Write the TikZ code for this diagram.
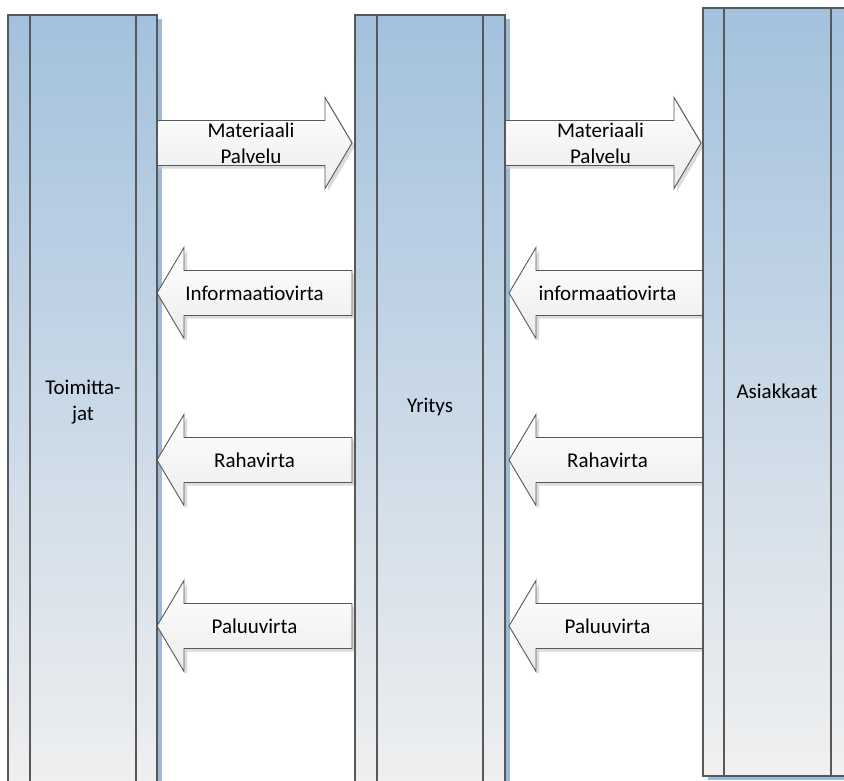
\documentclass[tikz,border=0pt]{standalone}
\usepackage{fontspec}
\setmainfont{Carlito}

\definecolor{coltop}{RGB}{163,193,221}
\definecolor{colbot}{RGB}{240,240,240}
\definecolor{colshadow}{RGB}{155,186,216}
\definecolor{edgegray}{RGB}{88,88,88}
\definecolor{flowbot}{RGB}{236,236,236}
\definecolor{flowshadow}{RGB}{205,205,205}

\tikzset{
  colbody/.style={top color=coltop, bottom color=colbot},
  coledge/.style={draw=edgegray, line width=1.4pt},
  colshade/.style={fill=colshadow},
  flowbody/.style={top color=white, bottom color=flowbot, draw=edgegray,
                   line width=0.9pt, line join=miter},
  flowshade/.style={fill=flowshadow, opacity=0.7},
  lbl/.style={font=\fontsize{21}{26}\selectfont, align=center,
              text=black, inner sep=0pt},
}

% block arrow pointing right: name, start x, tip x, centre y, text
\newcommand\flowright[5]{%
  \begin{scope}[shift={(3,3)}]
    \fill[flowshade] (#2,{#4-22.5}) -- ({#3-27},{#4-22.5}) -- ({#3-27},{#4-45.5})
      -- (#3,#4) -- ({#3-27},{#4+45.5}) -- ({#3-27},{#4+22.5}) -- (#2,{#4+22.5}) -- cycle;
  \end{scope}
  \path[flowbody] (#2,{#4-22.5}) -- ({#3-27},{#4-22.5}) -- ({#3-27},{#4-45.5})
      -- (#3,#4) -- ({#3-27},{#4+45.5}) -- ({#3-27},{#4+22.5}) -- (#2,{#4+22.5}) -- cycle;
  \node[lbl] (#1) at ({(#2+#3)/2},#4) {#5};
}

% block arrow pointing left: name, tip x, end x, centre y, text
\newcommand\flowleft[5]{%
  \begin{scope}[shift={(3,3)}]
    \fill[flowshade] (#3,{#4-22.5}) -- ({#2+27},{#4-22.5}) -- ({#2+27},{#4-45.5})
      -- (#2,#4) -- ({#2+27},{#4+45.5}) -- ({#2+27},{#4+22.5}) -- (#3,{#4+22.5}) -- cycle;
  \end{scope}
  \path[flowbody] (#3,{#4-22.5}) -- ({#2+27},{#4-22.5}) -- ({#2+27},{#4-45.5})
      -- (#2,#4) -- ({#2+27},{#4+45.5}) -- ({#2+27},{#4+22.5}) -- (#3,{#4+22.5}) -- cycle;
  \node[lbl] (#1) at ({(#2+#3)/2},#4) {#5};
}

% swim-lane column: left x, right x, top y, bottom y, inner left x, inner right x
\newcommand\lane[6]{%
  \path[colbody] (#1,#3) rectangle (#2,#4);
  \draw[coledge] (#1,#3) rectangle (#2,#4);
  \draw[coledge] (#5,#3) -- (#5,#4);
  \draw[coledge] (#6,#3) -- (#6,#4);
}

\begin{document}
\begin{tikzpicture}[x=1pt, y=-1pt]
  \useasboundingbox (0,0) rectangle (844,780);
  \clip (0,0) rectangle (844,780);
  \fill[white] (0,0) rectangle (844,780);

  % column shadows
  \fill[colshade] (13,19) rectangle (162,805);
  \fill[colshade] (360,19) rectangle (510,805);
  \fill[colshade] (708,12) rectangle (858,780);

  % flows between Toimittajat and Yritys
  \flowright{mat1}{150}{352}{143}{Materiaali\\Palvelu}
  \flowleft{inf1}{157}{352}{293}{Informaatiovirta}
  \flowleft{raha1}{157}{352}{460}{Rahavirta}
  \flowleft{paluu1}{157}{352}{626}{Paluuvirta}

  % flows between Yritys and Asiakkaat
  \flowright{mat2}{500}{701}{143}{Materiaali\\Palvelu}
  \flowleft{inf2}{509}{706}{293}{informaatiovirta}
  \flowleft{raha2}{509}{706}{460}{Rahavirta}
  \flowleft{paluu2}{509}{706}{626}{Paluuvirta}

  % columns
  \lane{8}{157}{15}{800}{30}{136}
  \lane{355}{505}{15}{800}{377}{483}
  \lane{703}{853}{8}{776}{724}{831}

  \node[lbl] (toim) at (83,402) {Toimitta-\\jat};
  \node[lbl] (yritys) at (430,407) {Yritys};
  \node[lbl] (asiak) at (777,391.5) {Asiakkaat};
\end{tikzpicture}
\end{document}
